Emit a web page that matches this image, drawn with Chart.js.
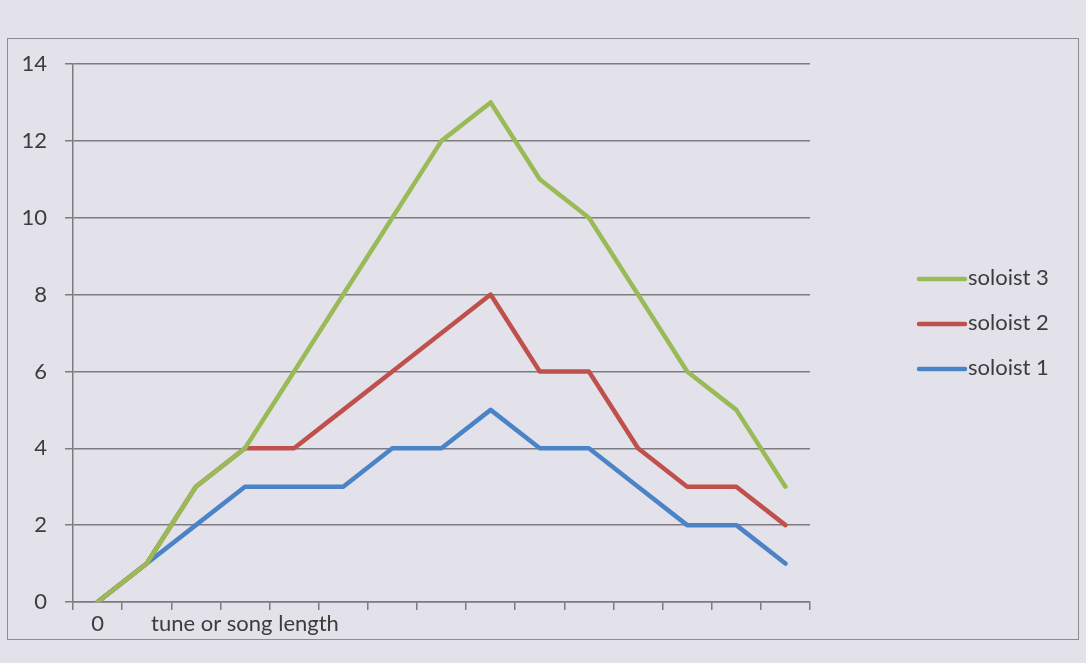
<!DOCTYPE html>
<html>
<head>
<meta charset="utf-8">
<script src="https://cdn.jsdelivr.net/npm/chart.js@4"></script>
<style>
html,body{margin:0;padding:0;background:#e3e2eb;width:1086px;height:663px;overflow:hidden;}
#frame{position:absolute;left:7px;top:38px;width:1072px;height:602px;border:1.5px solid #8c8b90;box-sizing:border-box;}
#c{position:absolute;left:0;top:0;}
</style>
</head>
<body>
<div id="frame"></div>
<canvas id="c" width="1086" height="663"></canvas>
<script>
const categories = ["0","","","tune or song length","","","","","","","","","","",""];
const seriesNames = ["soloist 3","soloist 2","soloist 1"];
const soloist3 = [0,1,3,4,6,8,10,12,13,11,10,8,6,5,3];
const soloist2 = [0,1,3,4,4,5,6,7,8,6,6,4,3,3,2];
const soloist1 = [0,1,2,3,3,3,4,4,5,4,4,3,2,2,1];
const yTicks = [0,2,4,6,8,10,12,14];
const colors = ["#9aba57","#bf504c","#4a84c6"];

const FONT = "Lato, 'Open Sans', sans-serif";
const TEXT = "#3c3c3c";

const legendPlugin = {
  id: 'customLegend',
  afterDraw(chart){
    const ctx = chart.ctx;
    ctx.save();
    chart.data.datasets.forEach((ds,i)=>{
      const y = 278 + 45*i;
      ctx.strokeStyle = ds.borderColor;
      ctx.lineWidth = 4.5;
      ctx.lineCap = 'round';
      ctx.beginPath();
      ctx.moveTo(919,y+1);
      ctx.lineTo(965,y+1);
      ctx.stroke();
      ctx.fillStyle = TEXT;
      ctx.font = "22px " + FONT;
      ctx.textBaseline = 'middle';
      ctx.textAlign = 'left';
      ctx.fillText(ds.label, 968, y);
    });
    ctx.restore();
  }
};

new Chart(document.getElementById('c'), {
  type: 'line',
  data: {
    labels: categories,
    datasets: [
      {label: seriesNames[0], data: soloist3, borderColor: colors[0], backgroundColor: colors[0]},
      {label: seriesNames[1], data: soloist2, borderColor: colors[1], backgroundColor: colors[1]},
      {label: seriesNames[2], data: soloist1, borderColor: colors[2], backgroundColor: colors[2]}
    ]
  },
  options: {
    responsive: false,
    animation: false,
    devicePixelRatio: 1,
    layout: {padding: {left: 0, right: 276, top: 64, bottom: 0}},
    elements: {
      line: {borderWidth: 4.5, tension: 0, borderJoinStyle: 'round', borderCapStyle: 'round'},
      point: {radius: 0, hoverRadius: 0}
    },
    plugins: {legend: {display: false}, tooltip: {enabled: false}},
    scales: {
      x: {
        type: 'category',
        offset: true,
        grid: {offset: true, drawOnChartArea: false, drawTicks: true, tickLength: 8, color: '#7d7b80', lineWidth: 1.5},
        border: {display: true, color: '#7d7b80', width: 1.5},
        ticks: {autoSkip: false, maxRotation: 0, minRotation: 0, padding: 1, color: TEXT, font: {family: FONT, size: 22}},
        afterFit: s => { s.height = 61; }
      },
      y: {
        min: 0, max: 14,
        afterBuildTicks: s => { s.ticks = yTicks.map(v => ({value: v})); },
        grid: {color: '#7d7b80', lineWidth: 1.5, tickLength: 8},
        border: {display: true, color: '#7d7b80', width: 1.5},
        ticks: {padding: 18, color: TEXT, font: {family: FONT, size: 22}},
        afterFit: s => { s.width = 73; }
      }
    }
  },
  plugins: [legendPlugin]
});
</script>
</body>
</html>
